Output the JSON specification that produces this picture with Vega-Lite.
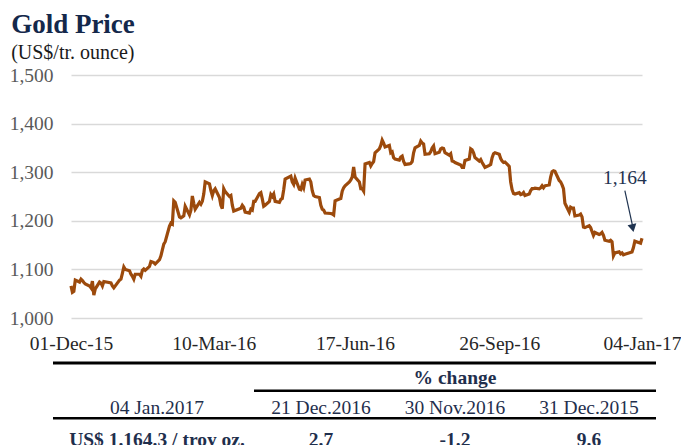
{
  "$schema": "https://vega.github.io/schema/vega-lite/v6.json",
  "background": "white",
  "padding": {"left": 9, "top": 11, "right": 0, "bottom": 0},
  "config": {"view": {"stroke": null}, "font": "Liberation Serif"},
  "title": {
    "text": "Gold Price",
    "subtitle": "(US$/tr. ounce)",
    "anchor": "start",
    "font": "Liberation Serif",
    "fontSize": 27,
    "fontWeight": "bold",
    "color": "#14284b",
    "subtitleFont": "Liberation Serif",
    "subtitleFontSize": 20,
    "subtitleColor": "#1a1a1a",
    "subtitlePadding": 4,
    "offset": 1,
    "dx": 2
  },
  "spacing": 8,
  "vconcat": [
    {
      "width": 571,
      "height": 243,
      "data": {"values": [
        {"date":"2015-12-01","price":1066},{"date":"2015-12-02","price":1053},{"date":"2015-12-03","price":1055},{"date":"2015-12-04","price":1078},
        {"date":"2015-12-07","price":1074},{"date":"2015-12-08","price":1080},{"date":"2015-12-09","price":1077},{"date":"2015-12-10","price":1073},{"date":"2015-12-11","price":1070},
        {"date":"2015-12-14","price":1066},{"date":"2015-12-15","price":1062},{"date":"2015-12-16","price":1076},{"date":"2015-12-17","price":1047},{"date":"2015-12-18","price":1060},
        {"date":"2015-12-21","price":1074},{"date":"2015-12-22","price":1072},{"date":"2015-12-23","price":1066},{"date":"2015-12-24","price":1075},
        {"date":"2015-12-29","price":1072},{"date":"2015-12-30","price":1066},{"date":"2015-12-31","price":1062},
        {"date":"2016-01-04","price":1078},{"date":"2016-01-05","price":1080},{"date":"2016-01-06","price":1092},{"date":"2016-01-07","price":1105},{"date":"2016-01-08","price":1100},
        {"date":"2016-01-11","price":1097},{"date":"2016-01-12","price":1090},{"date":"2016-01-13","price":1086},{"date":"2016-01-14","price":1080},{"date":"2016-01-15","price":1090},
        {"date":"2016-01-18","price":1090},{"date":"2016-01-19","price":1086},{"date":"2016-01-20","price":1098},{"date":"2016-01-21","price":1101},{"date":"2016-01-22","price":1098},
        {"date":"2016-01-25","price":1106},{"date":"2016-01-26","price":1116},{"date":"2016-01-27","price":1115},{"date":"2016-01-28","price":1114},{"date":"2016-01-29","price":1111},
        {"date":"2016-02-01","price":1120},{"date":"2016-02-02","price":1128},{"date":"2016-02-03","price":1140},{"date":"2016-02-04","price":1152},{"date":"2016-02-05","price":1157},
        {"date":"2016-02-08","price":1189},{"date":"2016-02-09","price":1195},{"date":"2016-02-10","price":1193},{"date":"2016-02-11","price":1241},{"date":"2016-02-12","price":1238},
        {"date":"2016-02-15","price":1208},{"date":"2016-02-16","price":1206},{"date":"2016-02-17","price":1208},{"date":"2016-02-18","price":1210},{"date":"2016-02-19","price":1230},
        {"date":"2016-02-22","price":1212},{"date":"2016-02-23","price":1222},{"date":"2016-02-24","price":1251},{"date":"2016-02-25","price":1236},{"date":"2016-02-26","price":1224},
        {"date":"2016-02-29","price":1238},
        {"date":"2016-03-01","price":1234},{"date":"2016-03-02","price":1240},{"date":"2016-03-03","price":1255},{"date":"2016-03-04","price":1280},
        {"date":"2016-03-07","price":1276},{"date":"2016-03-08","price":1262},{"date":"2016-03-09","price":1252},{"date":"2016-03-10","price":1262},{"date":"2016-03-11","price":1266},
        {"date":"2016-03-14","price":1248},{"date":"2016-03-15","price":1232},{"date":"2016-03-16","price":1225},{"date":"2016-03-17","price":1266},{"date":"2016-03-18","price":1260},
        {"date":"2016-03-21","price":1250},{"date":"2016-03-22","price":1252},{"date":"2016-03-23","price":1232},{"date":"2016-03-24","price":1220},
        {"date":"2016-03-29","price":1226},{"date":"2016-03-30","price":1232},{"date":"2016-03-31","price":1228},
        {"date":"2016-04-01","price":1218},{"date":"2016-04-04","price":1216},{"date":"2016-04-05","price":1224},{"date":"2016-04-06","price":1222},{"date":"2016-04-07","price":1240},{"date":"2016-04-08","price":1240},
        {"date":"2016-04-11","price":1256},{"date":"2016-04-12","price":1258},{"date":"2016-04-13","price":1245},{"date":"2016-04-14","price":1230},{"date":"2016-04-15","price":1232},
        {"date":"2016-04-18","price":1240},{"date":"2016-04-19","price":1254},{"date":"2016-04-20","price":1250},{"date":"2016-04-21","price":1255},{"date":"2016-04-22","price":1240},
        {"date":"2016-04-25","price":1238},{"date":"2016-04-26","price":1244},{"date":"2016-04-27","price":1246},{"date":"2016-04-28","price":1264},{"date":"2016-04-29","price":1286},
        {"date":"2016-05-03","price":1292},{"date":"2016-05-04","price":1280},{"date":"2016-05-05","price":1275},{"date":"2016-05-06","price":1288},
        {"date":"2016-05-09","price":1265},{"date":"2016-05-10","price":1264},{"date":"2016-05-11","price":1275},{"date":"2016-05-12","price":1268},{"date":"2016-05-13","price":1284},
        {"date":"2016-05-16","price":1286},{"date":"2016-05-17","price":1280},{"date":"2016-05-18","price":1262},{"date":"2016-05-19","price":1252},{"date":"2016-05-20","price":1250},
        {"date":"2016-05-23","price":1248},{"date":"2016-05-24","price":1232},{"date":"2016-05-25","price":1224},{"date":"2016-05-26","price":1222},{"date":"2016-05-27","price":1216},
        {"date":"2016-05-31","price":1215},
        {"date":"2016-06-01","price":1214},{"date":"2016-06-02","price":1212},{"date":"2016-06-03","price":1241},
        {"date":"2016-06-06","price":1245},{"date":"2016-06-07","price":1246},{"date":"2016-06-08","price":1261},{"date":"2016-06-09","price":1268},{"date":"2016-06-10","price":1272},
        {"date":"2016-06-13","price":1280},{"date":"2016-06-14","price":1284},{"date":"2016-06-15","price":1290},{"date":"2016-06-16","price":1311},{"date":"2016-06-17","price":1290},
        {"date":"2016-06-20","price":1280},{"date":"2016-06-21","price":1266},{"date":"2016-06-22","price":1266},{"date":"2016-06-23","price":1261},{"date":"2016-06-24","price":1317},
        {"date":"2016-06-27","price":1320},{"date":"2016-06-28","price":1313},{"date":"2016-06-29","price":1318},{"date":"2016-06-30","price":1322},
        {"date":"2016-07-01","price":1340},{"date":"2016-07-04","price":1348},{"date":"2016-07-05","price":1355},{"date":"2016-07-06","price":1366},{"date":"2016-07-07","price":1360},{"date":"2016-07-08","price":1352},
        {"date":"2016-07-11","price":1355},{"date":"2016-07-12","price":1340},{"date":"2016-07-13","price":1342},{"date":"2016-07-14","price":1330},{"date":"2016-07-15","price":1327},
        {"date":"2016-07-18","price":1325},{"date":"2016-07-19","price":1331},{"date":"2016-07-20","price":1333},{"date":"2016-07-21","price":1322},{"date":"2016-07-22","price":1316},
        {"date":"2016-07-25","price":1317},{"date":"2016-07-26","price":1318},{"date":"2016-07-27","price":1322},{"date":"2016-07-28","price":1340},{"date":"2016-07-29","price":1350},
        {"date":"2016-08-01","price":1355},{"date":"2016-08-02","price":1364},{"date":"2016-08-03","price":1360},{"date":"2016-08-04","price":1358},{"date":"2016-08-05","price":1337},
        {"date":"2016-08-08","price":1338},{"date":"2016-08-09","price":1342},{"date":"2016-08-10","price":1350},{"date":"2016-08-11","price":1354},{"date":"2016-08-12","price":1338},
        {"date":"2016-08-15","price":1341},{"date":"2016-08-16","price":1348},{"date":"2016-08-17","price":1350},{"date":"2016-08-18","price":1349},{"date":"2016-08-19","price":1340},
        {"date":"2016-08-22","price":1335},{"date":"2016-08-23","price":1338},{"date":"2016-08-24","price":1323},{"date":"2016-08-25","price":1322},{"date":"2016-08-26","price":1320},
        {"date":"2016-08-30","price":1315},{"date":"2016-08-31","price":1310},
        {"date":"2016-09-01","price":1310},{"date":"2016-09-02","price":1324},
        {"date":"2016-09-05","price":1327},{"date":"2016-09-06","price":1348},{"date":"2016-09-07","price":1346},{"date":"2016-09-08","price":1340},{"date":"2016-09-09","price":1330},
        {"date":"2016-09-12","price":1323},{"date":"2016-09-13","price":1326},{"date":"2016-09-14","price":1320},{"date":"2016-09-15","price":1315},{"date":"2016-09-16","price":1310},
        {"date":"2016-09-19","price":1314},{"date":"2016-09-20","price":1316},{"date":"2016-09-21","price":1330},{"date":"2016-09-22","price":1338},{"date":"2016-09-23","price":1340},
        {"date":"2016-09-26","price":1337},{"date":"2016-09-27","price":1328},{"date":"2016-09-28","price":1323},{"date":"2016-09-29","price":1320},{"date":"2016-09-30","price":1321},
        {"date":"2016-10-03","price":1312},{"date":"2016-10-04","price":1280},{"date":"2016-10-05","price":1264},{"date":"2016-10-06","price":1256},{"date":"2016-10-07","price":1255},
        {"date":"2016-10-10","price":1258},{"date":"2016-10-11","price":1254},{"date":"2016-10-12","price":1255},{"date":"2016-10-13","price":1258},{"date":"2016-10-14","price":1252},
        {"date":"2016-10-17","price":1255},{"date":"2016-10-18","price":1262},{"date":"2016-10-19","price":1266},{"date":"2016-10-20","price":1266},{"date":"2016-10-21","price":1267},
        {"date":"2016-10-24","price":1266},{"date":"2016-10-25","price":1268},{"date":"2016-10-26","price":1272},{"date":"2016-10-27","price":1268},{"date":"2016-10-28","price":1272},
        {"date":"2016-10-31","price":1274},
        {"date":"2016-11-01","price":1290},{"date":"2016-11-02","price":1301},{"date":"2016-11-03","price":1303},{"date":"2016-11-04","price":1302},
        {"date":"2016-11-07","price":1283},{"date":"2016-11-08","price":1280},{"date":"2016-11-09","price":1274},{"date":"2016-11-10","price":1266},{"date":"2016-11-11","price":1236},
        {"date":"2016-11-14","price":1218},{"date":"2016-11-15","price":1228},{"date":"2016-11-16","price":1226},{"date":"2016-11-17","price":1226},{"date":"2016-11-18","price":1210},
        {"date":"2016-11-21","price":1212},{"date":"2016-11-22","price":1214},{"date":"2016-11-23","price":1208},{"date":"2016-11-24","price":1187},{"date":"2016-11-25","price":1186},
        {"date":"2016-11-28","price":1190},{"date":"2016-11-29","price":1186},{"date":"2016-11-30","price":1178},
        {"date":"2016-12-01","price":1170},{"date":"2016-12-02","price":1176},
        {"date":"2016-12-05","price":1172},{"date":"2016-12-06","price":1173},{"date":"2016-12-07","price":1176},{"date":"2016-12-08","price":1170},{"date":"2016-12-09","price":1160},
        {"date":"2016-12-12","price":1158},{"date":"2016-12-13","price":1160},{"date":"2016-12-14","price":1157},{"date":"2016-12-15","price":1128},{"date":"2016-12-16","price":1134},
        {"date":"2016-12-19","price":1136},{"date":"2016-12-20","price":1132},{"date":"2016-12-21","price":1134},{"date":"2016-12-22","price":1130},{"date":"2016-12-23","price":1131},
        {"date":"2016-12-28","price":1136},{"date":"2016-12-29","price":1145},{"date":"2016-12-30","price":1158},
        {"date":"2017-01-03","price":1154},{"date":"2017-01-04","price":1164}
      ]},
      "layer": [
        {
          "mark": {"type": "line", "color": "#9c4a0c", "strokeWidth": 3.2},
          "encoding": {
            "x": {
              "field": "date", "type": "temporal",
              "scale": {"type": "utc", "domain": [{"year": 2015, "month": 12, "date": 1, "utc": true}, {"year": 2017, "month": 1, "date": 4, "utc": true}]},
              "axis": {
                "title": null, "grid": false, "domain": false, "ticks": false,
                "values": [
                  {"year": 2015, "month": 12, "date": 1, "utc": true},
                  {"year": 2016, "month": 3, "date": 10, "utc": true},
                  {"year": 2016, "month": 6, "date": 17, "utc": true},
                  {"year": 2016, "month": 9, "date": 26, "utc": true},
                  {"year": 2017, "month": 1, "date": 4, "utc": true}
                ],
                "format": "%d-%b-%y",
                "labelFont": "Liberation Serif", "labelFontSize": 19.5, "labelColor": "#262626",
                "labelPadding": 16, "labelOverlap": false, "labelFlush": false
              }
            },
            "y": {
              "field": "price", "type": "quantitative",
              "scale": {"domain": [1000, 1500], "nice": false, "zero": false},
              "axis": {
                "title": null, "domain": false, "ticks": false,
                "values": [1000, 1100, 1200, 1300, 1400, 1500],
                "format": ",.0f",
                "grid": true, "gridColor": "#d9d9d9", "gridWidth": 1.5,
                "labelFont": "Liberation Serif", "labelFontSize": 19.5, "labelColor": "#595959",
                "labelPadding": 18
              }
            }
          }
        },
        {
          "data": {"values": [{"label": "1,164"}]},
          "mark": {"type": "text", "font": "Liberation Serif", "fontSize": 19.5, "color": "#1f3350", "baseline": "middle", "align": "center"},
          "encoding": {
            "x": {"datum": {"year": 2016, "month": 12, "date": 23, "utc": true}, "type": "temporal"},
            "y": {"datum": 1288, "type": "quantitative"},
            "text": {"field": "label"}
          }
        },
        {
          "data": {"values": [{}]},
          "mark": {"type": "rule", "color": "#1f3350", "strokeWidth": 1.2},
          "encoding": {
            "x": {"datum": {"year": 2016, "month": 12, "date": 23, "utc": true}, "type": "temporal"},
            "y": {"datum": 1262, "type": "quantitative"},
            "x2": {"datum": {"year": 2016, "month": 12, "date": 28, "hours": 12, "utc": true}},
            "y2": {"datum": 1188}
          }
        },
        {
          "data": {"values": [{}]},
          "mark": {"type": "point", "shape": "triangle-down", "filled": true, "color": "#1f3350", "opacity": 1, "size": 80, "angle": 348},
          "encoding": {
            "x": {"datum": {"year": 2016, "month": 12, "date": 28, "hours": 12, "utc": true}, "type": "temporal"},
            "y": {"datum": 1185, "type": "quantitative"}
          }
        }
      ]
    },
    {
      "width": 571,
      "height": 83,
      "data": {"values": [
        {"row": "group", "col": "30 Nov.2016", "text": "% change"},
        {"row": "header", "col": "label", "text": "04 Jan.2017"},
        {"row": "header", "col": "21 Dec.2016", "text": "21 Dec.2016"},
        {"row": "header", "col": "30 Nov.2016", "text": "30 Nov.2016"},
        {"row": "header", "col": "31 Dec.2015", "text": "31 Dec.2015"},
        {"row": "value", "col": "label", "text": "US$ 1.164.3 / troy oz."},
        {"row": "value", "col": "21 Dec.2016", "text": "2.7"},
        {"row": "value", "col": "30 Nov.2016", "text": "-1.2"},
        {"row": "value", "col": "31 Dec.2015", "text": "9.6"}
      ]},
      "layer": [
        {
          "data": {"values": [{}]},
          "mark": {"type": "rule", "color": "#000000", "strokeWidth": 3},
          "encoding": {
            "x": {"datum": "pad", "type": "nominal", "bandPosition": 0.5,
                  "scale": {"type": "band", "domain": ["pad", "label", "21 Dec.2016", "30 Nov.2016", "31 Dec.2015"], "range": [-85, 585], "paddingInner": 0, "paddingOuter": 0},
                  "axis": null},
            "x2": {"datum": "31 Dec.2015", "bandPosition": 1},
            "y": {"datum": "group", "type": "nominal", "bandPosition": 0,
                  "scale": {"type": "band", "domain": ["group", "header", "value"], "paddingInner": 0, "paddingOuter": 0},
                  "axis": null}
          }
        },
        {
          "data": {"values": [{}]},
          "mark": {"type": "rule", "color": "#000000", "strokeWidth": 2.5},
          "encoding": {
            "x": {"datum": "21 Dec.2016", "type": "nominal", "bandPosition": 0},
            "x2": {"datum": "31 Dec.2015", "bandPosition": 1},
            "y": {"datum": "header", "type": "nominal", "bandPosition": 0}
          }
        },
        {
          "data": {"values": [{}]},
          "mark": {"type": "rule", "color": "#000000", "strokeWidth": 2.5},
          "encoding": {
            "x": {"datum": "pad", "type": "nominal", "bandPosition": 0.5},
            "x2": {"datum": "31 Dec.2015", "bandPosition": 1},
            "y": {"datum": "value", "type": "nominal", "bandPosition": 0}
          }
        },
        {
          "transform": [{"filter": "datum.row == 'group'"}],
          "mark": {"type": "text", "font": "Liberation Serif", "fontSize": 19.5, "fontWeight": "bold", "color": "#1f2f4d", "baseline": "middle", "dy": 1},
          "encoding": {"x": {"field": "col", "type": "nominal"}, "y": {"field": "row", "type": "nominal"}, "text": {"field": "text"}}
        },
        {
          "transform": [{"filter": "datum.row == 'header' && datum.col != 'label'"}],
          "mark": {"type": "text", "font": "Liberation Serif", "fontSize": 19.5, "color": "#1f2f4d", "baseline": "middle", "dy": 3.5},
          "encoding": {"x": {"field": "col", "type": "nominal"}, "y": {"field": "row", "type": "nominal"}, "text": {"field": "text"}}
        },
        {
          "transform": [{"filter": "datum.row == 'header' && datum.col == 'label'"}],
          "mark": {"type": "text", "font": "Liberation Serif", "fontSize": 19.5, "color": "#1f2f4d", "baseline": "middle", "dy": 3.5, "dx": -30},
          "encoding": {"x": {"field": "col", "type": "nominal"}, "y": {"field": "row", "type": "nominal"}, "text": {"field": "text"}}
        },
        {
          "transform": [{"filter": "datum.row == 'value' && datum.col != 'label'"}],
          "mark": {"type": "text", "font": "Liberation Serif", "fontSize": 19.5, "fontWeight": "bold", "color": "#1f2f4d", "baseline": "middle", "dy": 8},
          "encoding": {"x": {"field": "col", "type": "nominal"}, "y": {"field": "row", "type": "nominal"}, "text": {"field": "text"}}
        },
        {
          "transform": [{"filter": "datum.row == 'value' && datum.col == 'label'"}],
          "mark": {"type": "text", "font": "Liberation Serif", "fontSize": 19.5, "fontWeight": "bold", "color": "#1f2f4d", "baseline": "middle", "dy": 8, "dx": -30},
          "encoding": {"x": {"field": "col", "type": "nominal"}, "y": {"field": "row", "type": "nominal"}, "text": {"field": "text"}}
        }
      ]
    }
  ]
}
